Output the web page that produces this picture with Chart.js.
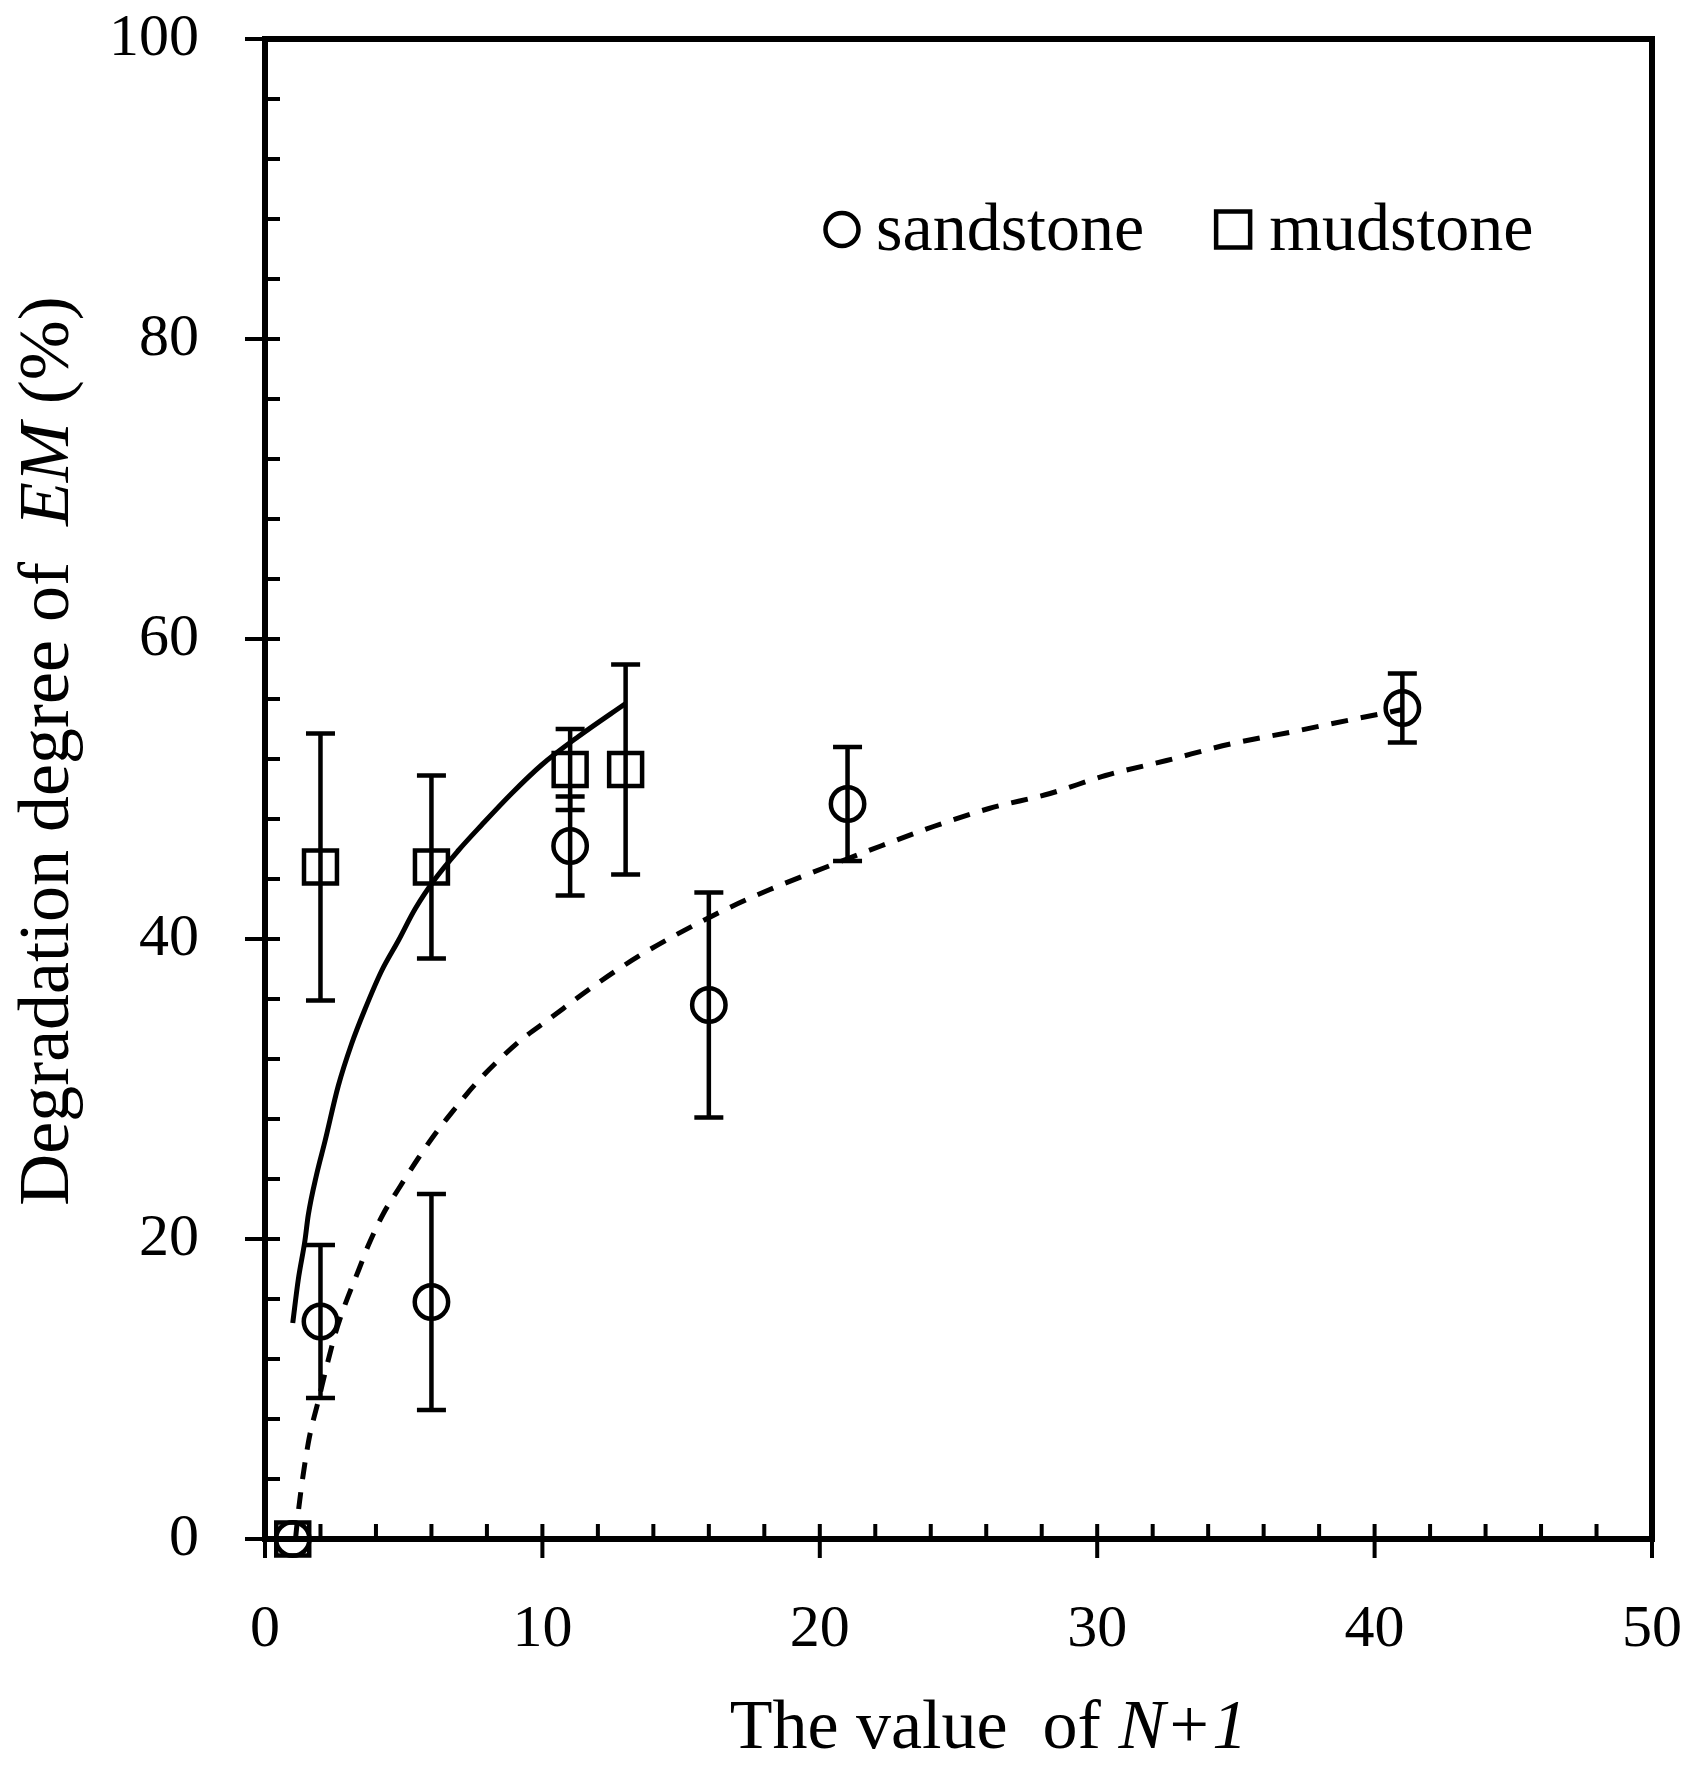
<!DOCTYPE html>
<html>
<head>
<meta charset="utf-8">
<title>Degradation degree of EM</title>
<script src="https://cdn.jsdelivr.net/npm/chart.js@4.4.1/dist/chart.umd.min.js"></script>
<style>
  html, body { margin: 0; padding: 0; background: #fff; }
  #wrap { width: 1703px; height: 1772px; }
</style>
</head>
<body>
<div id="wrap"><canvas id="emChart" width="1703" height="1772"></canvas></div>
<script>
// measured points: x = N+1, y = degradation degree (%), err = +/- bar
const sandX = [1, 2, 6, 11, 16, 21, 41];
const sandY = [0, 14.5, 15.8, 46.2, 35.6, 49.0, 55.4];
const sandErr = [0, 5.1, 7.2, 3.3, 7.5, 3.8, 2.3];

const mudX = [1, 2, 6, 11, 13];
const mudY = [0, 44.8, 44.8, 51.3, 51.3];
const mudErr = [0, 8.9, 6.1, 2.7, 7.0];

// trend lines
const mudFitX = [1.0, 1.2, 1.44, 1.56, 1.86, 2.16, 2.64, 3.12, 3.6, 4.21, 4.81, 5.41, 6.13, 6.97, 7.81, 8.89, 9.97, 11.3, 13];
const mudFitY = [14.4, 17.3, 19.9, 21.6, 24.3, 26.5, 30.2, 33.0, 35.3, 37.9, 39.9, 42.0, 44.0, 45.9, 47.6, 49.7, 51.6, 53.5, 55.7];

const sandFitX = [1.1, 1.2, 1.56, 1.92, 2.52, 2.88, 3.37, 3.73, 4.27, 4.87, 5.53, 6.13, 6.85, 7.57, 8.41, 9.25, 10.2, 11.8, 13.6, 16.3, 18.2, 20.1, 22.2, 24.1, 26.1, 28.3, 30.3, 32.5, 34.8, 37, 39.1, 41];
const sandFitY = [0, 1.8, 6.4, 9.2, 13.6, 15.6, 17.9, 19.6, 21.7, 23.5, 25.4, 27.0, 28.7, 30.3, 31.9, 33.3, 34.6, 36.8, 39.0, 41.7, 43.3, 44.7, 46.2, 47.5, 48.7, 49.7, 50.9, 51.9, 53.0, 53.8, 54.6, 55.3];

const xTicks = [0, 10, 20, 30, 40, 50];
const yTicks = [0, 20, 40, 60, 80, 100];
const legendLabels = ["sandstone", "mudstone"];

const SERIF = "'Liberation Serif', 'Times New Roman', serif";

function pts(xs, ys) {
    return xs.map((x, i) => ({ x: x, y: ys[i] }));
}

// draws a run of text pieces, some italic, centred on (x, y)
function drawRich(ctx, parts, x, y, size) {
    let total = 0;
    parts.forEach(p => {
        ctx.font = (p.italic ? "italic " : "") + size + "px " + SERIF;
        total += ctx.measureText(p.text).width;
    });
    let cx = x - total / 2;
    parts.forEach(p => {
        ctx.font = (p.italic ? "italic " : "") + size + "px " + SERIF;
        ctx.fillText(p.text, cx, y);
        cx += ctx.measureText(p.text).width;
    });
}

const decor = {
    id: "decor",
    beforeDatasetsDraw(chart) {
        // error bars
        const ctx = chart.ctx, xs = chart.scales.x, ys = chart.scales.y;
        ctx.save();
        ctx.strokeStyle = "#000";
        ctx.lineWidth = 4.5;
        const bars = (X, Y, E) => X.forEach((x, i) => {
            if (!E[i]) return;
            const px = xs.getPixelForValue(x);
            const top = ys.getPixelForValue(Y[i] + E[i]);
            const bot = ys.getPixelForValue(Y[i] - E[i]);
            ctx.beginPath();
            ctx.moveTo(px, top); ctx.lineTo(px, bot);
            ctx.moveTo(px - 14.5, top); ctx.lineTo(px + 14.5, top);
            ctx.moveTo(px - 14.5, bot); ctx.lineTo(px + 14.5, bot);
            ctx.stroke();
        });
        bars(sandX, sandY, sandErr);
        bars(mudX, mudY, mudErr);
        ctx.restore();
    },
    afterDraw(chart) {
        const ctx = chart.ctx, a = chart.chartArea;
        const xs = chart.scales.x, ys = chart.scales.y;
        ctx.save();
        ctx.strokeStyle = "#000";
        ctx.fillStyle = "#000";

        // box
        ctx.lineWidth = 6;
        ctx.strokeRect(a.left, a.top, a.right - a.left, a.bottom - a.top);

        // ticks: minor inside, major also outside
        ctx.lineWidth = 4;
        ctx.beginPath();
        for (let v = 0; v <= 50; v += 2) {
            const px = xs.getPixelForValue(v);
            ctx.moveTo(px, a.bottom); ctx.lineTo(px, a.bottom - 15);
            if (xTicks.includes(v)) { ctx.moveTo(px, a.bottom); ctx.lineTo(px, a.bottom + 19); }
        }
        for (let v = 0; v <= 100; v += 4) {
            const py = ys.getPixelForValue(v);
            ctx.moveTo(a.left, py); ctx.lineTo(a.left + 15, py);
            if (yTicks.includes(v)) { ctx.moveTo(a.left, py); ctx.lineTo(a.left - 20, py); }
        }
        ctx.stroke();

        // legend
        const ly = ys.getPixelForValue(87.3);
        const c1 = xs.getPixelForValue(20.8), c2 = xs.getPixelForValue(34.9);
        ctx.lineWidth = 4.5;
        ctx.beginPath();
        ctx.arc(c1, ly, 16.5, 0, Math.PI * 2);
        ctx.stroke();
        ctx.strokeRect(c2 - 17, ly - 18, 34, 36);
        ctx.font = "68px " + SERIF;
        ctx.textAlign = "left";
        ctx.textBaseline = "alphabetic";
        ctx.fillText(legendLabels[0], c1 + 34, ly + 20);
        ctx.fillText(legendLabels[1], c2 + 36, ly + 20);

        // x axis title
        drawRich(ctx, [
            { text: "The value  of " },
            { text: "N+1", italic: true }
        ], (a.left + a.right) / 2 + 30, a.bottom + 209, 70);

        // y axis title
        ctx.translate(68, (a.top + a.bottom) / 2 - 38);
        ctx.rotate(-Math.PI / 2);
        drawRich(ctx, [
            { text: "Degradation degree of  " },
            { text: "EM", italic: true },
            { text: " (%)" }
        ], 0, 0, 72);
        ctx.restore();
    }
};

new Chart(document.getElementById("emChart"), {
    type: "scatter",
    data: {
        datasets: [
            {
                label: "sandstone",
                data: pts(sandX, sandY),
                pointStyle: "circle",
                pointRadius: 16.7,
                pointBorderWidth: 4.5,
                borderColor: "#000",
                backgroundColor: "rgba(0,0,0,0)",
                showLine: false,
                clip: false
            },
            {
                label: "mudstone",
                data: pts(mudX, mudY),
                pointStyle: "rect",
                pointRadius: 23.3,
                pointBorderWidth: 4.5,
                borderColor: "#000",
                backgroundColor: "rgba(0,0,0,0)",
                showLine: false,
                clip: false
            },
            {
                label: "mudstone fit",
                data: pts(mudFitX, mudFitY),
                showLine: true,
                pointRadius: 0,
                borderColor: "#000",
                borderWidth: 5,
                cubicInterpolationMode: "monotone",
                fill: false
            },
            {
                label: "sandstone fit",
                data: pts(sandFitX, sandFitY),
                showLine: true,
                pointRadius: 0,
                borderColor: "#000",
                borderWidth: 5,
                borderDash: [17, 13],
                cubicInterpolationMode: "monotone",
                fill: false
            }
        ]
    },
    options: {
        responsive: false,
        animation: false,
        devicePixelRatio: 1,
        layout: { padding: { top: 39, right: 51, left: 0, bottom: 0 } },
        plugins: {
            legend: { display: false },
            tooltip: { enabled: false }
        },
        scales: {
            x: {
                type: "linear",
                min: 0,
                max: 50,
                afterFit: s => {
                    s.height = 233;
                    s.paddingLeft = 0;
                    s.paddingRight = 0;
                },
                border: { display: false },
                grid: { display: true, drawOnChartArea: false, drawTicks: false },
                ticks: {
                    stepSize: 10,
                    autoSkip: false,
                    maxRotation: 0,
                    padding: 55,
                    color: "#000",
                    font: { family: SERIF, size: 60 },
                    callback: v => xTicks.includes(v) ? v : ""
                }
            },
            y: {
                type: "linear",
                min: 0,
                max: 100,
                afterFit: s => {
                    s.width = 265;
                    s.paddingTop = 0;
                    s.paddingBottom = 0;
                },
                border: { display: false },
                grid: { display: true, drawOnChartArea: false, drawTicks: false },
                ticks: {
                    stepSize: 20,
                    autoSkip: false,
                    padding: 66,
                    color: "#000",
                    font: { family: SERIF, size: 60 },
                    callback: v => yTicks.includes(v) ? v : ""
                }
            }
        }
    },
    plugins: [decor]
});
</script>
</body>
</html>
